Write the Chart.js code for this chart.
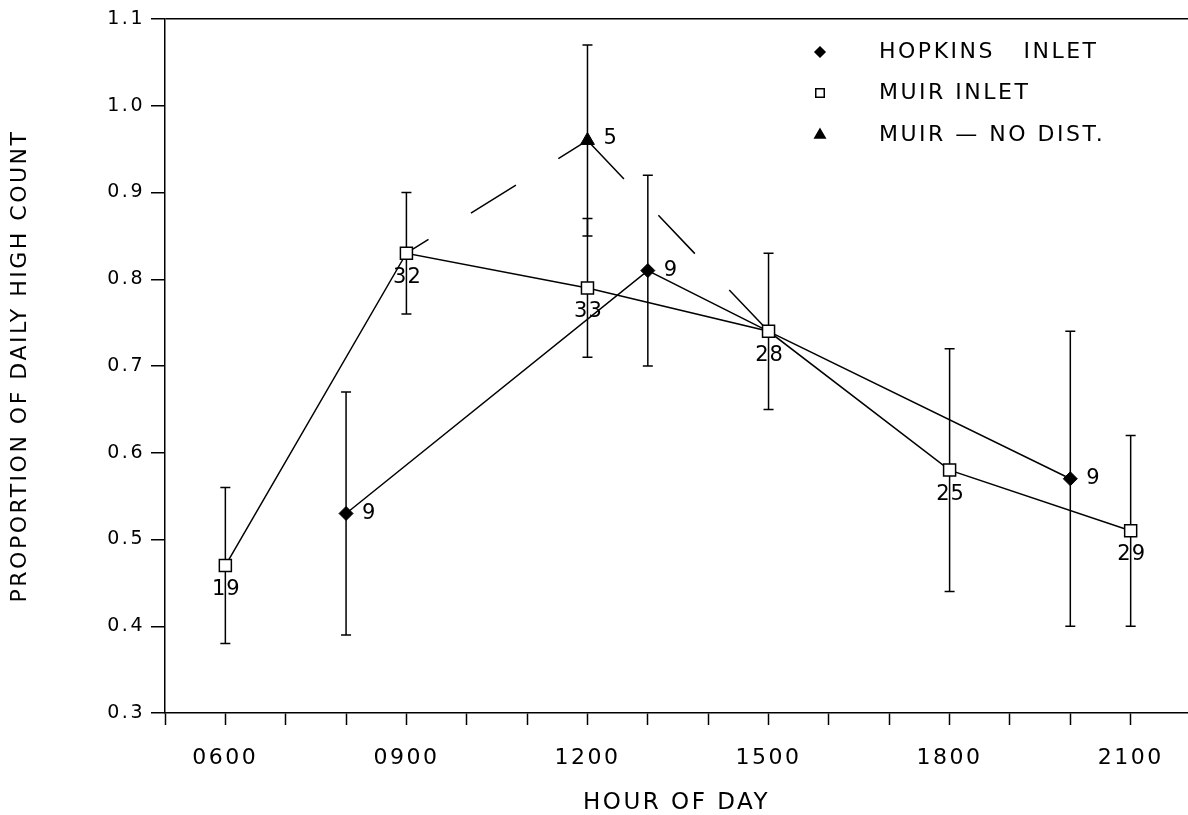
<!DOCTYPE html>
<html>
<head>
<meta charset="utf-8">
<title>Proportion of daily high count by hour of day</title>
<script src="https://cdn.jsdelivr.net/npm/chart.js@4.4.1/dist/chart.umd.min.js"></script>
<style>
  html, body { margin: 0; padding: 0; background: #fff; }
  canvas { display: block; }
</style>
</head>
<body>
<canvas id="countChart" width="1188" height="815"></canvas>
<script>
const hourTicks = [5, 6, 7, 8, 9, 10, 11, 12, 13, 14, 15, 16, 17, 18, 19, 20, 21];
const labelHours = [6, 9, 12, 15, 18, 21];
const hourLabels = ['0600', '0900', '1200', '1500', '1800', '2100'];
const proportionTicks = [0.3, 0.4, 0.5, 0.6, 0.7, 0.8, 0.9, 1.0, 1.1];

const hopkinsHours = [8, 13, 15, 20];
const hopkinsValues = [0.53, 0.81, 0.74, 0.57];
const hopkinsLow = [0.39, 0.70, null, 0.40];
const hopkinsHigh = [0.67, 0.92, null, 0.74];
const hopkinsCounts = ['9', '9', '', '9'];

const muirHours = [6, 9, 12, 15, 18, 21];
const muirValues = [0.47, 0.83, 0.79, 0.74, 0.58, 0.51];
const muirLow = [0.38, 0.76, 0.71, 0.65, 0.44, 0.40];
const muirHigh = [0.56, 0.90, 0.87, 0.83, 0.72, 0.62];
const muirCounts = ['19', '32', '33', '28', '25', '29'];

const noDistHours = [9, 12, 15];
const noDistValues = [0.83, 0.96, 0.74];
const noDistLow = [null, 0.85, null];
const noDistHigh = [null, 1.07, null];
const noDistCounts = ['', '5', ''];

const FONT = 'DejaVu Sans';

function toPoints(hours, values) {
  return hours.map((h, i) => ({ x: h, y: values[i] }));
}

const letterSpacing = {
  id: 'letterSpacing',
  beforeDraw(chart) {
    chart.ctx.letterSpacing = '2.5px';
  }
};

const errorBars = {
  id: 'errorBars',
  beforeDatasetsDraw(chart) {
    const { ctx, scales: { x, y } } = chart;
    ctx.save();
    ctx.strokeStyle = '#000';
    ctx.lineWidth = 1.5;
    chart.data.datasets.forEach(ds => {
      ds.data.forEach((p, i) => {
        if (ds.low[i] == null) return;
        const px = x.getPixelForValue(p.x);
        const top = y.getPixelForValue(ds.high[i]);
        const bottom = y.getPixelForValue(ds.low[i]);
        ctx.beginPath();
        ctx.moveTo(px, top);
        ctx.lineTo(px, bottom);
        ctx.moveTo(px - 5, top);
        ctx.lineTo(px + 5, top);
        ctx.moveTo(px - 5, bottom);
        ctx.lineTo(px + 5, bottom);
        ctx.stroke();
      });
    });
    ctx.restore();
  }
};

const countLabels = {
  id: 'countLabels',
  afterDatasetsDraw(chart) {
    const ctx = chart.ctx;
    ctx.save();
    ctx.fillStyle = '#000';
    ctx.font = `21px "${FONT}"`;
    ctx.letterSpacing = '1px';
    ctx.textBaseline = 'middle';
    chart.data.datasets.forEach((ds, di) => {
      const meta = chart.getDatasetMeta(di);
      meta.data.forEach((pt, i) => {
        const text = ds.counts[i];
        if (!text) return;
        if (ds.countAt === 'below') {
          ctx.textAlign = 'center';
          ctx.fillText(text, pt.x + 1, pt.y + 24);
        } else {
          ctx.textAlign = 'left';
          ctx.fillText(text, pt.x + 16, pt.y - (ds.countAt === 'upright' ? 2 : 0));
        }
      });
    });
    ctx.restore();
  }
};

const legendBox = {
  id: 'legendBox',
  afterDraw(chart) {
    const ctx = chart.ctx;
    const markX = 820;
    const textX = 879;
    const rows = [52, 93, 135];
    ctx.save();
    ctx.font = `22px "${FONT}"`;
    ctx.letterSpacing = '2.5px';
    ctx.textBaseline = 'middle';
    ctx.textAlign = 'left';
    chart.data.datasets.forEach((ds, i) => {
      ctx.fillStyle = ds.legendFill;
      ctx.strokeStyle = '#000';
      ctx.lineWidth = 1.5;
      Chart.helpers.drawPoint(ctx, {
        pointStyle: ds.pointStyle,
        radius: ds.legendRadius,
        borderWidth: 1.5,
        rotation: 0
      }, markX, rows[i]);
      ctx.fillStyle = '#000';
      ctx.fillText(ds.label, textX, rows[i]);
    });
    ctx.restore();
  }
};

const ctx = document.getElementById('countChart').getContext('2d');
const countChart = new Chart(ctx, {
  type: 'line',
  data: {
    datasets: [{
      label: 'HOPKINS   INLET',
      data: toPoints(hopkinsHours, hopkinsValues),
      low: hopkinsLow,
      high: hopkinsHigh,
      counts: hopkinsCounts,
      countAt: 'right',
      order: 1,
      borderColor: '#000',
      borderWidth: 1.5,
      pointStyle: 'rectRot',
      pointRadius: [7, 7, 0, 7],
      pointBackgroundColor: '#000',
      pointBorderColor: '#000',
      pointBorderWidth: 1,
      legendFill: '#000',
      legendRadius: 5
    }, {
      label: 'MUIR INLET',
      data: toPoints(muirHours, muirValues),
      low: muirLow,
      high: muirHigh,
      counts: muirCounts,
      countAt: 'below',
      order: 0,
      borderColor: '#000',
      borderWidth: 1.5,
      pointStyle: 'rect',
      pointRadius: 8.5,
      pointBackgroundColor: '#fff',
      pointBorderColor: '#000',
      pointBorderWidth: 1.5,
      legendFill: '#fff',
      legendRadius: 6
    }, {
      label: 'MUIR \u2014 NO DIST.',
      data: toPoints(noDistHours, noDistValues),
      low: noDistLow,
      high: noDistHigh,
      counts: noDistCounts,
      countAt: 'upright',
      order: 2,
      borderColor: '#000',
      borderWidth: 1.5,
      borderDash: [53, 50],
      segment: {
        borderDashOffset: c => c.p0DataIndex === 0 ? 27 : 0
      },
      pointStyle: 'triangle',
      pointRadius: [0, 8, 0],
      pointBackgroundColor: '#000',
      pointBorderColor: '#000',
      pointBorderWidth: 1,
      legendFill: '#000',
      legendRadius: 6
    }]
  },
  options: {
    responsive: false,
    animation: false,
    events: [],
    layout: {
      autoPadding: false,
      padding: { top: 19, right: 0, bottom: 0, left: 0 }
    },
    plugins: {
      legend: { display: false },
      tooltip: { enabled: false }
    },
    scales: {
      x: {
        type: 'linear',
        min: 5,
        max: 21.95,
        afterBuildTicks: scale => {
          scale.ticks = hourTicks.map(v => ({ value: v }));
        },
        afterFit: scale => {
          scale.height = 102;
          scale.paddingLeft = 0;
          scale.paddingRight = 0;
        },
        border: { display: true, color: '#000', width: 1.5 },
        grid: {
          drawOnChartArea: false,
          tickLength: 12,
          tickColor: '#000',
          tickWidth: 1.5
        },
        ticks: {
          autoSkip: false,
          maxRotation: 0,
          padding: 20,
          color: '#000',
          font: { family: FONT, size: 22 },
          callback: value => {
            const i = labelHours.indexOf(value);
            return i >= 0 ? hourLabels[i] : '';
          }
        },
        title: {
          display: true,
          text: 'HOUR OF DAY',
          color: '#000',
          font: { family: FONT, size: 23, lineHeight: 1 },
          padding: { top: 0, bottom: 0 }
        }
      },
      y: {
        min: 0.3,
        max: 1.1,
        afterBuildTicks: scale => {
          scale.ticks = proportionTicks.map(v => ({ value: v }));
        },
        afterFit: scale => { scale.width = 165; },
        border: { display: true, color: '#000', width: 1.5 },
        grid: {
          color: c => (c.tick && c.tick.value === 1.1) ? '#000' : 'rgba(0,0,0,0)',
          lineWidth: 1.5,
          tickLength: 14,
          tickColor: '#000',
          tickWidth: 1.5
        },
        ticks: {
          padding: 6,
          color: '#000',
          font: { family: FONT, size: 19 },
          callback: value => value.toFixed(1)
        },
        title: {
          display: true,
          text: 'PROPORTION OF DAILY HIGH COUNT',
          color: '#000',
          font: { family: FONT, size: 22, lineHeight: 1 },
          padding: { top: 9, bottom: 0 }
        }
      }
    }
  },
  plugins: [letterSpacing, errorBars, countLabels, legendBox]
});
</script>
</body>
</html>
